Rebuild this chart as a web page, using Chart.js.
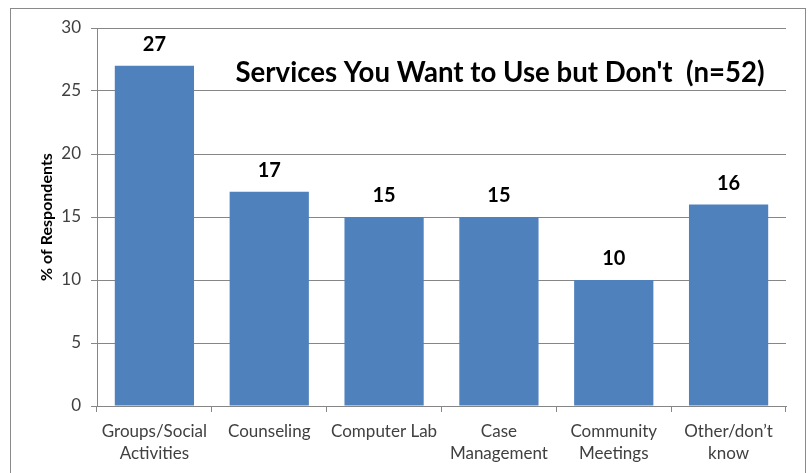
<!DOCTYPE html>
<html>
<head>
<meta charset="utf-8">
<script src="https://cdn.jsdelivr.net/npm/chart.js@4"></script>
<style>
  html, body { margin: 0; padding: 0; background: #fff; overflow: hidden; }
  #wrap { position: relative; width: 809px; height: 473px; }
  #frame { position: absolute; left: 10px; top: 8px; width: 794px; height: 480px; border: 1px solid #8a8a8a; pointer-events: none; }
  canvas { position: absolute; left: 0; top: 0; }
</style>
</head>
<body>
<div id="wrap">
  <canvas id="servicesChart" width="809" height="473"></canvas>
  <div id="frame"></div>
</div>
<script>
const categories = [
  ["Groups/Social", "Activities"],
  "Counseling",
  "Computer Lab",
  ["Case", "Management"],
  ["Community", "Meetings"],
  ["Other/don\u2019t", "know"],
];
const percents = [27, 17, 15, 15, 10, 16];
const yTicks = [0, 5, 10, 15, 20, 25, 30];
const chartTitle = "Services You Want to Use but Don't  (n=52)";

const FONT = "Lato, 'Open Sans', sans-serif";

// values above each bar + the title that sits inside the plot
const labelsPlugin = {
  id: "barLabels",
  afterDatasetsDraw(chart) {
    const ctx = chart.ctx;
    const meta = chart.getDatasetMeta(0);
    ctx.save();
    ctx.fillStyle = "#000";
    ctx.font = "bold 20px " + FONT;
    ctx.textAlign = "center";
    ctx.textBaseline = "middle";
    meta.data.forEach((bar, i) => {
      ctx.fillText(String(percents[i]), bar.x, bar.y - 21);
    });

    const area = chart.chartArea;
    ctx.font = "bold 27.6px " + FONT;
    ctx.fillText(chartTitle, area.left + (area.right - area.left) * 0.585, 73);
    ctx.restore();
  },
};

new Chart(document.getElementById("servicesChart"), {
  type: "bar",
  data: {
    labels: categories,
    datasets: [
      {
        data: percents,
        backgroundColor: "#4F81BD",
        borderWidth: 0,
        barPercentage: 0.69,
        categoryPercentage: 1,
      },
    ],
  },
  options: {
    responsive: false,
    animation: false,
    devicePixelRatio: 1,
    layout: { padding: { top: 28, right: 23, bottom: 0, left: 0 } },
    plugins: {
      legend: { display: false },
      tooltip: { enabled: false },
    },
    scales: {
      x: {
        afterFit: (scale) => { scale.height = 67; },
        grid: {
          offset: true,
          drawOnChartArea: false,
          drawTicks: true,
          tickLength: 6,
          color: "#868686",
        },
        border: { display: true, color: "#868686" },
        ticks: {
          color: "#404040",
          padding: 8,
          maxRotation: 0,
          autoSkip: false,
          font: { family: FONT, size: 17, lineHeight: 1.3 },
        },
      },
      y: {
        min: 0,
        max: 30,
        afterFit: (scale) => { scale.width = 97; },
        afterBuildTicks: (scale) => {
          scale.ticks = yTicks.map((v) => ({ value: v }));
        },
        grid: {
          color: "#868686",
          tickLength: 6,
        },
        border: { display: true, color: "#868686" },
        ticks: {
          color: "#404040",
          padding: 10,
          font: { family: FONT, size: 17 },
        },
        title: {
          display: true,
          text: "% of Respondents",
          color: "#000",
          font: { family: FONT, size: 16, weight: "bold" },
          padding: { top: 37, bottom: 0 },
        },
      },
    },
  },
  plugins: [labelsPlugin],
});
</script>
</body>
</html>
